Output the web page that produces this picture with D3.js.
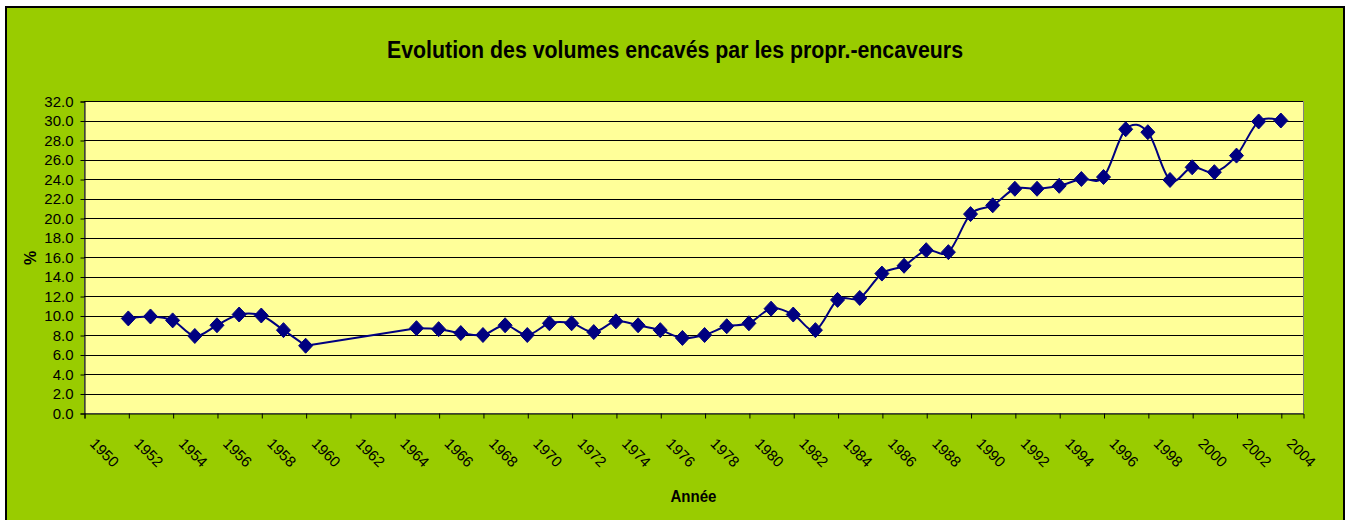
<!DOCTYPE html>
<html>
<head>
<meta charset="utf-8">
<script src="https://cdn.jsdelivr.net/npm/d3@7"></script>
<style>
  html, body { margin: 0; padding: 0; background: #fff; }
  svg { display: block; }
</style>
</head>
<body>
<svg id="chart" width="1351" height="520"></svg>
<script>
  // years with a value (1961-1964 missing in the source)
  var years = [1952, 1953, 1954, 1955, 1956, 1957, 1958, 1959, 1960,
    1961, 1962, 1963, 1964,
    1965, 1966, 1967, 1968, 1969, 1970, 1971, 1972, 1973, 1974, 1975, 1976, 1977, 1978, 1979,
    1980, 1981, 1982, 1983, 1984, 1985, 1986, 1987, 1988, 1989, 1990, 1991, 1992, 1993, 1994,
    1995, 1996, 1997, 1998, 1999, 2000, 2001, 2002, 2003, 2004];

  var values = [9.7, 9.9, 9.5, 7.9, 9.0, 10.1, 10.0, 8.5, 6.9,
    null, null, null, null,
    8.7, 8.6, 8.2, 8.0, 9.0, 8.0, 9.2, 9.2, 8.3, 9.4, 9.0, 8.5, 7.7, 8.0, 8.9,
    9.2, 10.7, 10.1, 8.5, 11.6, 11.8, 14.3, 15.1, 16.7, 16.5, 20.4, 21.3, 23.0, 23.0, 23.3,
    24.0, 24.2, 29.1, 28.8, 23.9, 25.2, 24.7, 26.4, 29.9, 30.0];

  var xTicks = [1950, 1952, 1954, 1956, 1958, 1960, 1962, 1964, 1966, 1968, 1970, 1972, 1974,
    1976, 1978, 1980, 1982, 1984, 1986, 1988, 1990, 1992, 1994, 1996, 1998, 2000, 2002, 2004];
  var yTicks = [0, 2, 4, 6, 8, 10, 12, 14, 16, 18, 20, 22, 24, 26, 28, 30, 32];

  var title = 'Evolution des volumes encavés par les propr.-encaveurs';
  var xTitle = 'Année';
  var yTitle = '%';

  var green = '#99cc00';
  var plotFill = '#ffff99';
  var navy = '#000080';
  var narrow = '"Liberation Sans Narrow", "Arial Narrow", "Liberation Sans", Arial, sans-serif';

  var svg = d3.select('#chart');

  // chart area
  svg.append('rect')
    .attr('x', 6).attr('y', 7)
    .attr('width', 1338).attr('height', 520)
    .style('fill', green)
    .style('stroke', '#000')
    .style('stroke-width', 2);

  var plot = { left: 84, right: 1303, top: 101, bottom: 413 };

  var x = d3.scaleLinear().domain([1950, 2005]).range([plot.left, plot.right]);
  var y = d3.scaleLinear().domain([0, 32]).range([plot.bottom, plot.top]);

  // plot area
  svg.append('rect')
    .attr('x', plot.left + 0.5).attr('y', plot.top + 0.5)
    .attr('width', plot.right - plot.left).attr('height', plot.bottom - plot.top)
    .style('fill', plotFill)
    .style('stroke', '#808080')
    .style('stroke-width', 1);

  // horizontal gridlines
  svg.append('g')
    .selectAll('line')
    .data(yTicks.filter(function (d) { return d > 0; }))
    .enter()
    .append('line')
    .attr('x1', plot.left).attr('x2', plot.right)
    .attr('y1', function (d) { return Math.round(y(d)) + 0.5; })
    .attr('y2', function (d) { return Math.round(y(d)) + 0.5; })
    .style('stroke', '#000')
    .style('stroke-width', 1);

  // y axis
  var yAxis = d3.axisLeft(y)
    .tickValues(yTicks)
    .tickSize(4)
    .tickPadding(7)
    .tickFormat(d3.format('.1f'));

  var gy = svg.append('g')
    .attr('transform', 'translate(' + (plot.left + 0.5) + ',0.5)')
    .call(yAxis);
  gy.selectAll('text')
    .style('font-family', narrow)
    .style('font-size', '15px')
    .style('fill', '#000');
  gy.selectAll('line, path').style('stroke', '#000');

  // x axis
  var xAxis = d3.axisBottom(x)
    .tickValues(xTicks)
    .tickSize(5)
    .tickFormat(function (d) { return d; });

  var gx = svg.append('g')
    .attr('transform', 'translate(0.5,' + (plot.bottom + 0.5) + ')')
    .call(xAxis);
  gx.selectAll('line, path').style('stroke', '#000');
  gx.selectAll('text')
    .style('font-family', narrow)
    .style('font-size', '15px')
    .style('fill', '#000')
    .attr('text-anchor', 'start')
    .attr('dy', null)
    .attr('y', null)
    .attr('transform', 'translate(4,31) rotate(45)');

  // line, smoothed as in the spreadsheet; the missing years are bridged
  var points = years.map(function (yr, i) { return { year: yr, value: values[i] }; });
  var known = points.filter(function (d) { return d.value !== null; });

  var smooth = d3.line()
    .defined(function (d) { return d.value !== null; })
    .x(function (d) { return x(d.year); })
    .y(function (d) { return y(d.value); })
    .curve(d3.curveCatmullRom.alpha(0));

  var straight = d3.line()
    .x(function (d) { return x(d.year); })
    .y(function (d) { return y(d.value); })
    .curve(d3.curveMonotoneX);

  // bridge over the gap between the two known years around it
  var bridge = [];
  known.forEach(function (d, i) {
    if (i > 0 && d.year - known[i - 1].year > 1) {
      bridge.push([known[i - 1], d]);
    }
  });

  svg.append('path')
    .datum(points)
    .attr('d', smooth)
    .style('fill', 'none')
    .style('stroke', navy)
    .style('stroke-width', 2);

  svg.append('g')
    .selectAll('path')
    .data(bridge)
    .enter()
    .append('path')
    .attr('d', straight)
    .style('fill', 'none')
    .style('stroke', navy)
    .style('stroke-width', 2);

  // diamond markers
  var h = 7;
  svg.append('g')
    .selectAll('path')
    .data(known)
    .enter()
    .append('path')
    .attr('transform', function (d) { return 'translate(' + x(d.year) + ',' + y(d.value) + ')'; })
    .attr('d', 'M0,' + (-h - 0.5) + 'L' + h + ',0L0,' + (h + 0.5) + 'L' + (-h) + ',0Z')
    .style('fill', navy)
    .style('stroke', navy)
    .style('stroke-width', 1);

  // titles
  svg.append('text')
    .attr('x', 675).attr('y', 58)
    .attr('text-anchor', 'middle')
    .attr('textLength', 576)
    .attr('lengthAdjust', 'spacingAndGlyphs')
    .style('font-family', narrow)
    .style('font-weight', 'bold')
    .style('font-size', '23px')
    .text(title);

  svg.append('text')
    .attr('x', (plot.left + plot.right) / 2).attr('y', 502)
    .attr('text-anchor', 'middle')
    .attr('textLength', 46)
    .attr('lengthAdjust', 'spacingAndGlyphs')
    .style('font-family', narrow)
    .style('font-weight', 'bold')
    .style('font-size', '17px')
    .text(xTitle);

  svg.append('text')
    .attr('transform', 'translate(36,258) rotate(-90)')
    .attr('text-anchor', 'middle')
    .style('font-family', narrow)
    .style('font-weight', 'bold')
    .style('font-size', '16px')
    .text(yTitle);
</script>
</body>
</html>
